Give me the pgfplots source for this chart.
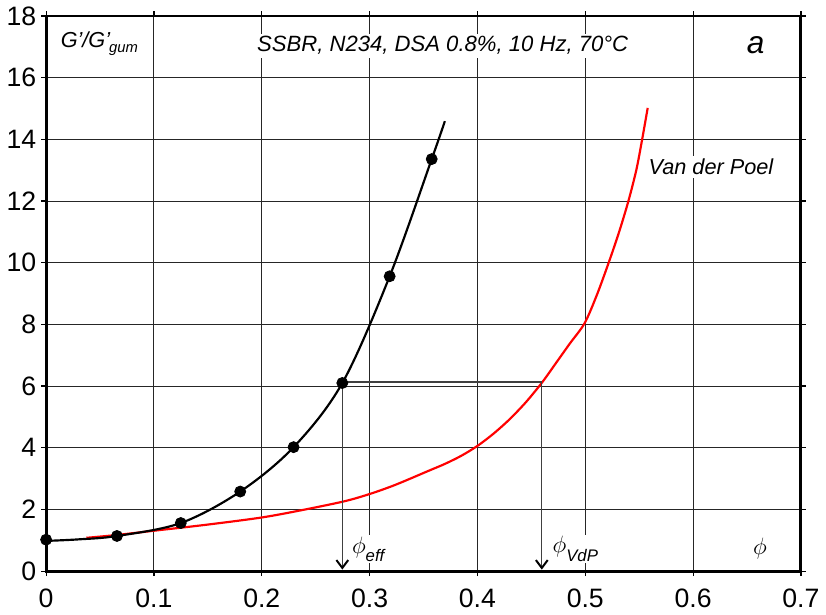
\documentclass[border=0pt]{standalone}
\usepackage{fontspec}
\setmainfont{Liberation Sans}
\usepackage{pgfplots}
\pgfplotsset{compat=1.18}
\usetikzlibrary{arrows.meta}
\begin{document}
\begin{tikzpicture}
\begin{axis}[
  scale only axis, width=382.75pt, height=281.5pt,
  xmin=0, xmax=0.7, ymin=0, ymax=18,
  xtick={0,0.1,0.2,0.3,0.4,0.5,0.6,0.7},
  xticklabels={0,0.1,0.2,0.3,0.4,0.5,0.6,0.7},
  ytick={0,2,4,6,8,10,12,14,16,18},
  grid=major, major grid style={black!85, line width=0.5pt},
  axis line style={line width=1.5pt},
  tick align=outside, major tick length=2.5pt,
  tick style={black, line width=0.6pt},
  /pgf/number format/assume math mode=true,
  ticklabel style={font=\fontsize{13.5}{15}\selectfont},
  xticklabel style={yshift=-3pt},
  yticklabel style={xshift=1pt},
  clip=false,
]
% Van der Poel curve
\addplot[red, line width=1.1pt, smooth] coordinates {
(0.0373,1.08) (0.065,1.17) (0.1,1.31) (0.15,1.51) (0.2,1.74)
(0.236,1.97) (0.276,2.26) (0.3,2.50) (0.324,2.80) (0.3545,3.25) (0.37,3.48)
(0.385,3.74) (0.4,4.06) (0.415,4.46) (0.43,4.93) (0.445,5.48) (0.46,6.12)
(0.4735,6.78) (0.4857,7.38) (0.4994,8.04) (0.5107,8.95) (0.5217,10.0)
(0.5314,11.0) (0.540,12.0) (0.5473,13.0) (0.5525,13.95) (0.5579,15.02)
};
% fitted black curve
\addplot[black, line width=1.1pt, smooth, tension=0.55] coordinates {
(0,0.98) (0.03,1.03) (0.0657,1.14) (0.1249,1.56) (0.18,2.58) (0.2295,4.02)
(0.2747,6.10) (0.3186,9.56) (0.3576,13.36) (0.3698,14.59)
};
% measured points
\addplot[only marks, mark=*, mark size=2.8pt, black] coordinates {
(0,1.02) (0.0657,1.14) (0.1249,1.56) (0.18,2.58) (0.2295,4.02)
(0.2747,6.10) (0.3186,9.56) (0.3576,13.36)
};
% construction lines
\addplot[black!75, line width=0.6pt, forget plot] coordinates {(0.2747,6.13) (0.4597,6.13)};
\addplot[black!75, line width=0.6pt, -{Straight Barb[length=4pt,width=6pt,line width=1pt,black]}] coordinates {(0.2747,6.13) (0.2747,0.05)};
\addplot[black!75, line width=0.6pt, -{Straight Barb[length=4pt,width=6pt,line width=1pt,black]}] coordinates {(0.4597,6.13) (0.4597,0.05)};
% labels
\node[fill=white, inner sep=1.5pt] at (axis cs:0.3678,17.04) {\fontsize{11.2}{13}\selectfont\itshape SSBR, N234, DSA 0.8\%, 10 Hz, 70°C};
\node[fill=white, inner sep=1.5pt] at (axis cs:0.658,17.04) {\fontsize{16}{18}\selectfont\itshape a};
\node[fill=white, inner sep=1pt, anchor=west] at (axis cs:0.0114,17.1) {\fontsize{11}{12}\selectfont\itshape G'/G'\kern-0.5pt\raisebox{-0.45ex}{\fontsize{7.5}{9}\selectfont gum}};
\node[fill=white, inner sep=1.5pt, anchor=west] at (axis cs:0.5557,13.1) {\fontsize{11}{12}\selectfont\itshape Van der Poel};
\node[fill=white, inner sep=1pt, anchor=west] at (axis cs:0.2815,0.72) {\fontsize{13}{14}\selectfont$\phi$\raisebox{-0.6ex}{\fontsize{8.5}{9}\selectfont\itshape eff}};
\node[fill=white, inner sep=1pt, anchor=west] at (axis cs:0.4675,0.72) {\fontsize{13}{14}\selectfont$\phi$\raisebox{-0.6ex}{\fontsize{8.5}{9}\selectfont\itshape VdP}};
\node[fill=white, inner sep=1pt] at (axis cs:0.662,0.72) {\fontsize{13}{14}\selectfont$\phi$};
\end{axis}
\end{tikzpicture}
\end{document}
